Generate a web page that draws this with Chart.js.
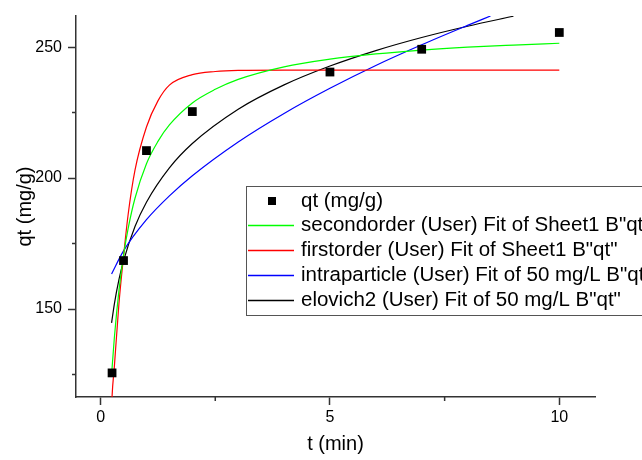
<!DOCTYPE html>
<html>
<head>
<meta charset="utf-8">
<title>qt vs t</title>
<script src="https://cdn.jsdelivr.net/npm/chart.js@4.4.1/dist/chart.umd.min.js"></script>
<style>
  html, body { margin: 0; padding: 0; background: #fff; }
  canvas { display: block; }
</style>
</head>
<body>
<canvas id="chart" width="642" height="460"></canvas>
<script>
// measured points
const timeMin = [0.25, 0.5, 1, 2, 5, 7, 10];
const qtValues = [125.6, 168.5, 210.5, 225.4, 240.5, 249.2, 255.6];

// fit curves
const secondT = [0.24, 0.3, 0.4, 0.5, 0.6, 0.75, 1, 1.25, 1.5, 2, 2.5, 3, 4, 5, 6, 7, 8, 9, 10];
const secondQ = [125, 139, 157, 170.5, 180.7, 192.3, 205.5, 214, 220.3, 228.7, 233.9, 237.7, 242.5, 245.4, 247.4, 248.9, 250, 250.8, 251.5];

const firstT = [0.23, 0.25, 0.3, 0.4, 0.5, 0.6, 0.75, 1, 1.25, 1.5, 2, 2.5, 3, 4, 6, 10];
const firstQ = [106, 116.5, 128, 152, 170, 186, 203, 219.5, 229.5, 235.5, 239.5, 240.7, 241.1, 241.2, 241.2, 241.2];

const intraT = [0.24, 0.5, 1, 1.5, 2, 3, 4, 5, 6, 7, 8, 8.5];
const intraQ = [163.4, 172.2, 184.1, 193.2, 200.9, 213.8, 224.7, 234.3, 243, 250.9, 258.3, 261.9];

const elovichT = [0.24, 0.3, 0.4, 0.5, 0.75, 1, 1.5, 2, 3, 4, 5, 6, 7, 8, 9];
const elovichQ = [144.7, 151.9, 161.2, 168.4, 181.5, 190.8, 203.9, 213.2, 226.3, 235.6, 242.8, 248.7, 253.7, 258, 261.8];

const xMajor = [0, 5, 10];
const xMinor = [2.5, 7.5];
const yMajor = [150, 200, 250];
const yMinor = [125, 175, 225];

const fitColors = ['#00ff00', '#ff0000', '#0000ff', '#000000'];

const toPoints = (xs, ys) => xs.map((x, i) => ({ x: x, y: ys[i] }));

Chart.defaults.font.family = "'Liberation Sans', Arial, sans-serif";
Chart.defaults.color = '#000';

function fitLine(label, xs, ys, color) {
    return {
        label: label,
        data: toPoints(xs, ys),
        showLine: true,
        borderColor: color,
        backgroundColor: color,
        borderWidth: 1.2,
        pointRadius: 0,
        cubicInterpolationMode: 'monotone'
    };
}

// minor tick marks, pointing outwards like the major ones
const minorTicks = {
    id: 'minorTicks',
    afterDraw(chart) {
        const ctx = chart.ctx;
        const xs = chart.scales.x, ys = chart.scales.y;
        const area = chart.chartArea;
        ctx.save();
        ctx.strokeStyle = '#333';
        ctx.lineWidth = 1.5;
        ctx.beginPath();
        xMinor.forEach(v => {
            const px = xs.getPixelForValue(v);
            ctx.moveTo(px, area.bottom);
            ctx.lineTo(px, area.bottom + 4);
        });
        yMinor.forEach(v => {
            const py = ys.getPixelForValue(v);
            ctx.moveTo(area.left, py);
            ctx.lineTo(area.left - 4, py);
        });
        ctx.stroke();
        ctx.restore();
    }
};

// boxed legend inside the plot, running off the right edge
const boxLegend = {
    id: 'boxLegend',
    afterDraw(chart) {
        const ctx = chart.ctx;
        const rows = [201, 225.5, 250.5, 275.5, 300.5];
        ctx.save();
        ctx.fillStyle = '#fff';
        ctx.fillRect(246.5, 186.5, 500, 129);
        ctx.strokeStyle = '#555';
        ctx.lineWidth = 1;
        ctx.strokeRect(246.5, 186.5, 500, 129);
        ctx.font = "20.5px 'Liberation Sans', Arial, sans-serif";
        ctx.textBaseline = 'middle';
        chart.data.datasets.forEach((ds, i) => {
            const y = rows[i];
            if (i > 0) {
                ctx.beginPath();
                ctx.strokeStyle = fitColors[i - 1];
                ctx.lineWidth = 1.5;
                ctx.moveTo(248, y);
                ctx.lineTo(294, y);
                ctx.stroke();
            } else {
                ctx.fillStyle = '#000';
                ctx.fillRect(268, y - 4, 8, 8);
            }
            ctx.fillStyle = '#000';
            ctx.fillText(ds.label, 301, y);
        });
        ctx.restore();
    }
};

new Chart(document.getElementById('chart'), {
    type: 'scatter',
    data: {
        datasets: [
            {
                label: 'qt (mg/g)',
                data: toPoints(timeMin, qtValues),
                showLine: false,
                pointStyle: 'rect',
                pointRadius: 6.2,
                pointHoverRadius: 6.2,
                backgroundColor: '#000',
                borderColor: '#000',
                borderWidth: 0
            },
            fitLine('secondorder (User) Fit of Sheet1 B"qt"', secondT, secondQ, fitColors[0]),
            fitLine('firstorder (User) Fit of Sheet1 B"qt"', firstT, firstQ, fitColors[1]),
            fitLine('intraparticle (User) Fit of 50 mg/L B"qt"', intraT, intraQ, fitColors[2]),
            fitLine('elovich2 (User) Fit of 50 mg/L B"qt"', elovichT, elovichQ, fitColors[3])
        ]
    },
    options: {
        responsive: false,
        animation: false,
        layout: { padding: { top: 16, right: 47, left: 0, bottom: 0 } },
        plugins: {
            legend: { display: false },
            tooltip: { enabled: false }
        },
        scales: {
            x: {
                type: 'linear',
                min: -0.536,
                max: 10.778,
                afterFit(scale) { scale.height = 63; },
                afterBuildTicks(scale) { scale.ticks = xMajor.map(v => ({ value: v })); },
                border: { display: true, color: '#333', width: 1.5 },
                grid: { drawOnChartArea: false, drawTicks: true, tickLength: 8, tickColor: '#333', tickWidth: 1.5 },
                ticks: { font: { size: 16 }, padding: 3, maxRotation: 0, color: '#000' },
                title: { display: true, text: 't (min)', font: { size: 20 }, padding: { top: 0, bottom: 4 }, color: '#000' }
            },
            y: {
                type: 'linear',
                min: 116.4,
                max: 261.9,
                afterFit(scale) { scale.width = 76; },
                afterBuildTicks(scale) { scale.ticks = yMajor.map(v => ({ value: v })); },
                border: { display: true, color: '#333', width: 1.5 },
                grid: { drawOnChartArea: false, drawTicks: true, tickLength: 8, tickColor: '#333', tickWidth: 1.5 },
                ticks: { font: { size: 16 }, padding: 6, color: '#000' },
                title: { display: true, text: 'qt (mg/g)', font: { size: 20 }, padding: { top: 13, bottom: 0 }, color: '#000' }
            }
        }
    },
    plugins: [minorTicks, boxLegend]
});
</script>
</body>
</html>
